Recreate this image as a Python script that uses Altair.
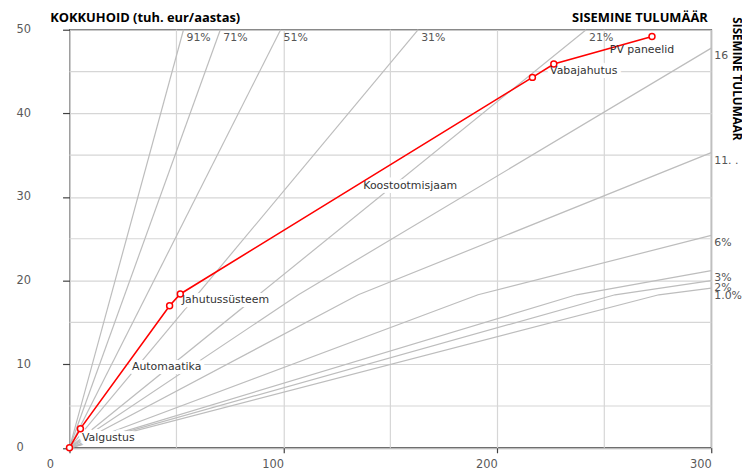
import altair as alt
import pandas as pd

# ---- data ----
# red cumulative line: investment (x) vs annual saving (y)
meas_names = ["", "Valgustus", "Automaatika", "Jahutussüsteem", "Koostootmisjaam", "Vabajahutus", "PV paneelid"]
meas_x = [0, 5.1, 46.8, 51.8, 216.4, 226.4, 272.3]
meas_y = [0, 2.29, 17.0, 18.4, 44.3, 45.9, 49.2]

# internal rate of return reference curves
irr_labels = ["91%", "71%", "51%", "31%", "21%", "16", "11. .", "6%", "3%", "2%", "1.0%"]
irr_x = [[0, 53.3], [0, 70.5], [0, 98.7], [0, 163.0], [0, 241.5],
         [0, 107, 300], [0, 135, 300], [0, 191, 300], [0, 237, 300], [0, 255, 300], [0, 275.5, 300]]
irr_y = [[0, 50], [0, 50], [0, 50], [0, 50], [0, 50],
         [0, 18.3, 47.8], [0, 18.3, 35.3], [0, 18.3, 25.4], [0, 18.3, 21.2], [0, 18.3, 20.0], [0, 18.3, 19.1]]

x_ticks = [0, 100, 200, 300]
x_minor = [50, 150, 250]
y_ticks = [0, 10, 20, 30, 40, 50]
y_minor = [5, 15, 25, 35, 45]

# ---- tables ----
irr_rows = []
for name, xs_, ys_ in zip(irr_labels, irr_x, irr_y):
    for i, (xv, yv) in enumerate(zip(xs_, ys_)):
        irr_rows.append({"name": name, "ord": i, "x": xv, "y": yv})
irr_df = pd.DataFrame(irr_rows)
irr_end = pd.DataFrame([{"name": n, "x": a[-1], "y": b[-1]} for n, a, b in zip(irr_labels, irr_x, irr_y)])

meas_df = pd.DataFrame({"ord": range(len(meas_x)), "x": meas_x, "y": meas_y})
lab_df = pd.DataFrame([
    {"name": meas_names[i], "x": (meas_x[i - 1] + meas_x[i]) / 2, "y": (meas_y[i - 1] + meas_y[i]) / 2}
    for i in range(1, len(meas_x))
])

xs = alt.Scale(domain=[0, 300], nice=False)
ys = alt.Scale(domain=[0, 50], nice=False)

GRID = "#d6d6d6"
AXIS_LABEL = "#595959"
FONT = "DejaVu Sans"

x_axis = alt.Axis(
    values=x_ticks, grid=True, gridColor=GRID, gridWidth=1.2, domain=False,
    ticks=True, tickSize=5, tickColor="#404040", tickWidth=1.2,
    labelAlign="right", labelPadding=6, labelFont=FONT, labelFontSize=11.5, labelColor=AXIS_LABEL,
    labelOffset={"condition": {"test": "datum.value === 0", "value": -16}, "value": 0},
    title="SISEMINE TULUMÄÄR", titleX=643, titleY=-434, titleAlign="right", titleBaseline="middle",
    titleFont="Open Sans", titleFontSize=13, titleFontWeight="bold", titleColor="black",
)
y_axis = alt.Axis(
    values=y_ticks, grid=True, gridColor=GRID, gridWidth=1.2, domain=False,
    ticks=True, tickSize=7, tickColor="#404040", tickWidth=1.2,
    labelAlign="left", labelBaseline="middle", labelPadding=47, labelFont=FONT, labelFontSize=11.5,
    labelColor=AXIS_LABEL,
    title="KOKKUHOID (tuh. eur/aastas)", titleAngle=0, titleX=-20, titleY=-12, titleAlign="left",
    titleBaseline="middle", titleFont="Open Sans", titleFontSize=13, titleFontWeight="bold", titleColor="black",
)
y_axis_right = alt.Axis(
    orient="right", grid=False, ticks=False, labels=False, domain=False,
    title="SISEMINE TULUMÄÄR", titleAngle=90, titleX=25, titleY=-13, titleAlign="left",
    titleBaseline="middle", titleFont="Open Sans", titleFontSize=11.8, titleFontWeight="bold", titleColor="black",
)

X = alt.X("x:Q", scale=xs, axis=x_axis)
Y = alt.Y("y:Q", scale=ys, axis=y_axis)

vgrid = alt.Chart(pd.DataFrame({"x": x_minor})).mark_rule(color=GRID, strokeWidth=1.2).encode(x=X)
hgrid = alt.Chart(pd.DataFrame({"y": y_minor})).mark_rule(color=GRID, strokeWidth=1.2).encode(y=Y)

irr_lines = alt.Chart(irr_df).mark_line(color="#bdbdbd", strokeWidth=1.2).encode(
    x=X, y=Y, detail="name:N", order="ord:Q",
)

halo = alt.Chart(lab_df).mark_text(
    align="left", baseline="middle", dx=7, font=FONT, fontSize=11,
    color="white", stroke="white", strokeWidth=8, strokeJoin="round"
).encode(x=X, y=Y, text="name:N")

red_line = alt.Chart(meas_df).mark_line(color="#ff0000", strokeWidth=1.6).encode(
    x=X, y=Y, order="ord:Q",
)
red_pts = alt.Chart(meas_df).mark_point(
    shape="circle", filled=True, fill="white", stroke="#ff0000", strokeWidth=1.5, size=36, opacity=1
).encode(x=X, y=Y)

labels = alt.Chart(lab_df).mark_text(
    align="left", baseline="middle", dx=7, font=FONT, fontSize=11, color="#333333"
).encode(x=X, y=Y, text="name:N")

main = alt.layer(vgrid, hgrid, irr_lines, halo, red_line, red_pts, labels)

# curve labels carry the right-hand (rotated) axis title
irr_text = alt.Chart(irr_end).mark_text(
    align="left", baseline="middle", dx=3, dy=8, font=FONT, fontSize=11, color="#555555"
).encode(x=X, y=alt.Y("y:Q", scale=ys, axis=y_axis_right), text="name:N")

chart = alt.layer(main, irr_text).resolve_scale(y="independent").properties(
    width=647,
    height=421.5,
    autosize=alt.AutoSizeParams(type="none"),
    padding={"left": 62, "top": 20, "right": 31, "bottom": 24},
    background="white",
).configure_view(stroke="#404040", strokeWidth=1.3)

chart.save("out.html", embed_options={"renderer": "svg", "actions": False})
